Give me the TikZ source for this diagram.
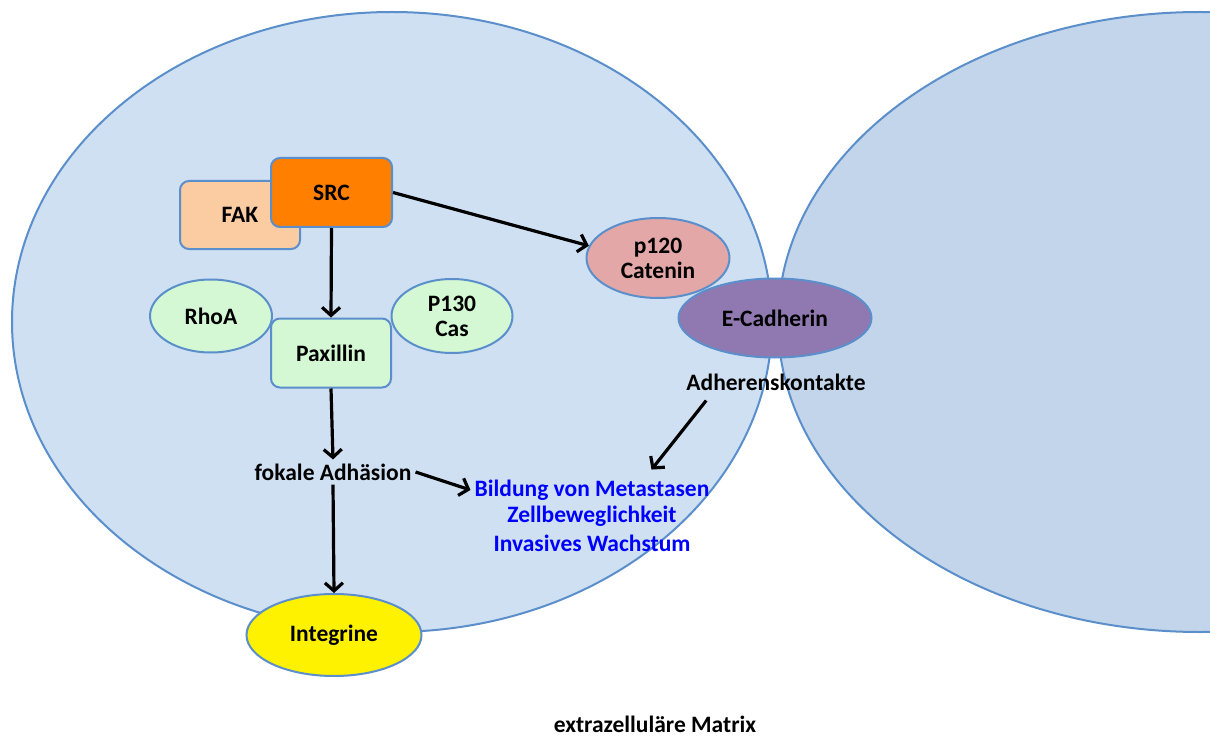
\documentclass[tikz,border=0pt]{standalone}
\usepackage{fontspec}
\setmainfont{Carlito}
\usepackage{tikz}
\usetikzlibrary{shapes.geometric, arrows.meta}

\definecolor{zelllinks}{HTML}{CFE0F2}
\definecolor{zellrechts}{HTML}{C3D5EA}
\definecolor{randblau}{HTML}{5B8FCB}
\definecolor{fakfarbe}{HTML}{FBCBA2}
\definecolor{srcfarbe}{HTML}{FF7F00}
\definecolor{gruenfarbe}{HTML}{D3F8D3}
\definecolor{cateninfarbe}{HTML}{E2A7A6}
\definecolor{cadherinfarbe}{HTML}{9079B0}
\definecolor{textblau}{HTML}{0000FF}

\tikzset{
  kasten/.style={draw=randblau, line width=2pt, rounded corners=9pt,
    minimum width=120pt, minimum height=68pt, inner sep=0pt, align=center},
  oval/.style={ellipse, draw=randblau, line width=2pt, inner sep=0pt, align=center},
  beschriftung/.style={inner sep=4pt, align=center},
  pfeil/.style={line width=3.2pt, -{Straight Barb[length=8pt, width=18pt, line width=3.2pt]}}
}

\begin{document}
\begin{tikzpicture}[x=1pt, y=-1pt, font=\fontsize{23.5}{25}\selectfont\bfseries]
    \clip (0,0) rectangle (1210,738);

    % Zellen
    \draw[draw=randblau, line width=2pt, fill=zelllinks] (392,322) ellipse (380 and 310);
    \draw[draw=randblau, line width=2pt, fill=zellrechts] (1200,322) ellipse (422 and 310);

    % Proteine
    \node[kasten, fill=fakfarbe] (fak) at (240,215) {FAK};
    \node[kasten, fill=srcfarbe, minimum width=121pt, minimum height=69pt] (src) at (331.5,192.5) {SRC};
    \node[oval, fill=gruenfarbe, minimum width=122pt, minimum height=73pt] (rhoa) at (211,316) {RhoA};
    \node[oval, fill=gruenfarbe, minimum width=121pt, minimum height=74pt] (p130) at (452,316) {P130\\Cas};
    \node[kasten, fill=gruenfarbe, minimum height=69pt] (pax) at (331,353) {Paxillin};
    \node[oval, fill=cateninfarbe, minimum width=143pt, minimum height=80pt] (p120) at (658,258) {p120\\Catenin};
    \node[oval, fill=cadherinfarbe, minimum width=193pt, minimum height=79pt] (ecad) at (775,318) {E-Cadherin};
    \node[oval, fill=yellow, minimum width=175pt, minimum height=82pt] (integrin) at (334,635) {Integrine};

    % Beschriftungen
    \node[beschriftung] (adh) at (776,382) {Adherenskontakte};
    \node[beschriftung] (fokal) at (333,472) {fokale Adhäsion};
    \node[beschriftung, text=textblau] (bildung) at (592,490) {Bildung von Metastasen};
    \node[beschriftung, text=textblau] (zell) at (592,516) {Zellbeweglichkeit};
    \node[beschriftung, text=textblau] (invasiv) at (592,543) {Invasives Wachstum};
    \node[beschriftung] (matrix) at (655,724) {extrazelluläre Matrix};

    % Pfeile
    \draw[pfeil] (src.east) -- (p120.170);
    \draw[pfeil] (src.south) -- (pax.north);
    \draw[pfeil] (pax.south) -- (fokal.north);
    \draw[pfeil] (fokal.south) -- (integrin.north);
    \draw[pfeil] (fokal.east) -- (bildung.west);
    \draw[pfeil] ([xshift=24pt, yshift=-6pt]adh.south west) -- ([xshift=-62pt, yshift=6pt]bildung.north east);

\end{tikzpicture}
\end{document}
